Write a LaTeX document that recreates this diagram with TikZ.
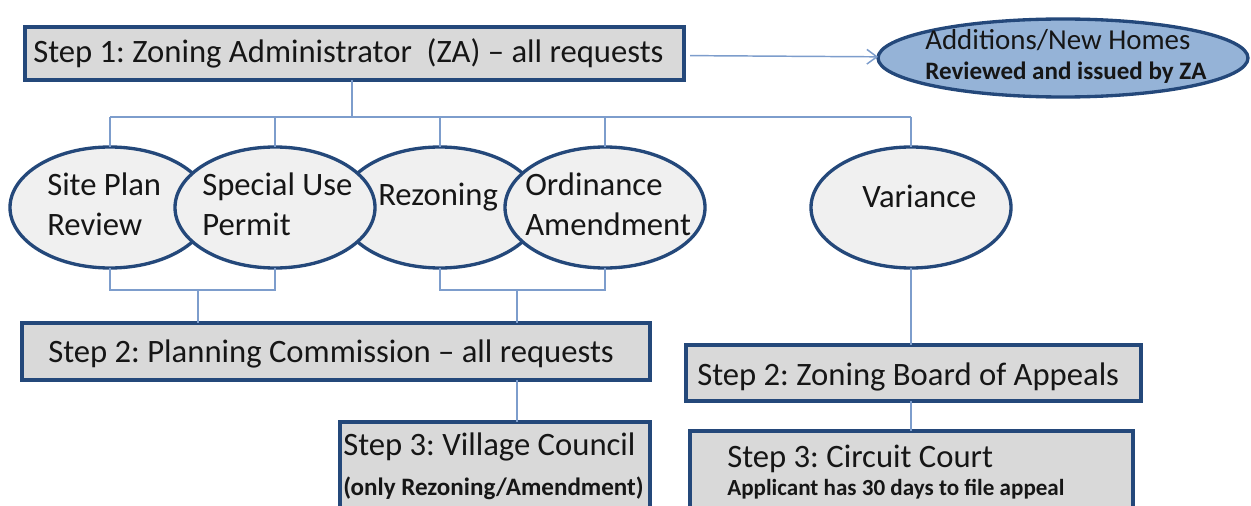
\documentclass[tikz,border=0pt]{standalone}
\usepackage{fontspec}
\setmainfont{Carlito}
\usetikzlibrary{arrows.meta,shapes.geometric}
\frenchspacing

\definecolor{boxfill}{RGB}{217,217,217}
\definecolor{ellfill}{RGB}{240,240,240}
\definecolor{edge}{RGB}{36,72,122}
\definecolor{link}{RGB}{125,157,204}
\definecolor{zafill}{RGB}{149,179,215}
\definecolor{ink}{RGB}{22,22,22}

\newcommand\mainsize{\fontsize{24.5pt}{30pt}\selectfont}
\newcommand\zasize{\fontsize{21.7pt}{26pt}\selectfont}
\newcommand\notesize{\bfseries\fontsize{18.8pt}{22pt}\selectfont}
\newcommand\smallnotesize{\bfseries\fontsize{17.3pt}{21pt}\selectfont}

\begin{document}
\begin{tikzpicture}[x=0.75pt,y=-0.75pt,
  stepbox/.style={draw=edge, line width=2.5pt, fill=boxfill, rectangle,
    anchor=north west, outer sep=0pt, inner sep=0pt},
  oval/.style={draw=edge, line width=2.5pt, fill=ellfill, ellipse,
    minimum width=150pt, minimum height=90.75pt, inner sep=0pt, outer sep=0pt},
  word/.style={anchor=base west, inner sep=0pt, font=\mainsize, text=ink},
  note/.style={word, font=\notesize},
  conn/.style={draw=link, line width=1.1pt}]

\useasboundingbox (0,0) rectangle (1251,506);
\clip (0,0) rectangle (1251,506);
\fill[white] (0,0) rectangle (1251,506);

% step boxes
\node[stepbox, minimum width=494.25pt, minimum height=39.75pt] (s1) at (25,27) {};
\node[stepbox, minimum width=471pt, minimum height=42.75pt] (pc) at (22,323) {};
\node[stepbox, minimum width=341.25pt, minimum height=42pt] (zba) at (686,345) {};
\node[stepbox, minimum width=232.5pt, minimum height=81pt] (vc) at (340,422) {};
\node[stepbox, minimum width=332.25pt, minimum height=74.25pt] (cc) at (690,431) {};

% request types
\node[oval] (site) at (110,207.5) {};
\node[oval] (rez)  at (440,207.5) {};
\node[oval] (spu)  at (275,207.5) {};
\node[oval] (ord)  at (605,207.5) {};
\node[oval] (var)  at (911,207.5) {};
\node[oval, fill=zafill, minimum width=277.5pt, minimum height=58.5pt] (za) at (1063,58) {};

% connectors
\coordinate (bus) at (0,117);
\coordinate (lowbus) at (0,290);
\coordinate (j1) at (198,290);
\coordinate (j2) at (517,290);
\coordinate (j0) at (352,0);
\draw[conn] (j0 |- s1.south) -- (j0 |- bus);
\draw[conn] (site.north |- bus) -- (var.north |- bus);
\foreach \e in {site,spu,rez,ord,var}
  \draw[conn] (\e.north |- bus) -- (\e.north);
\draw[conn] (site.south) -- (site.south |- lowbus) -- (spu.south |- lowbus) -- (spu.south);
\draw[conn] (rez.south) -- (rez.south |- lowbus) -- (ord.south |- lowbus) -- (ord.south);
\draw[conn] (j1) -- (j1 |- pc.north);
\draw[conn] (j2) -- (j2 |- pc.north);
\draw[conn] (j2 |- pc.south) -- (j2 |- vc.north);
\draw[conn] (var.south) -- (var.south |- zba.north);
\draw[conn] (var.south |- zba.south) -- (var.south |- cc.north);
\draw[conn, shorten <=4.5pt, -{Straight Barb[length=7.5pt,width=11pt]}] (s1) -- (za);

% box labels
\node[word] (s1t) at (33,63) {Step 1: Zoning Administrator\ \ (ZA) – all requests};
\node[word] (pct) at (48,362) {Step 2: Planning Commission – all requests};
\node[word] (zbat) at (697,385) {Step 2: Zoning Board of Appeals};
\node[word] (vc1) at (343,455) {Step 3: Village Council};
\node[note] (vc2) at (343,495) {(only Rezoning/Amendment)};
\node[word] (cc1) at (727,467) {Step 3: Circuit Court};
\node[note, font=\smallnotesize] (cc2) at (727,495) {Applicant has 30 days to file appeal};

% oval labels
\node[word] (site1) at (47,195) {Site Plan};
\node[word] (site2) at (47,235) {Review};
\node[word] (spu1) at (202,195) {Special Use};
\node[word] (spu2) at (202,235) {Permit};
\node[word] (rez1) at (378,205) {Rezoning};
\node[word] (ord1) at (525,195) {Ordinance};
\node[word] (ord2) at (525,235) {Amendment};
\node[word] (var1) at (862,207) {Variance};
\node[word, font=\zasize] (za1) at (925,50) {Additions/New Homes};
\node[note] (za2) at (925,80) {Reviewed and issued by ZA};
\end{tikzpicture}
\end{document}
